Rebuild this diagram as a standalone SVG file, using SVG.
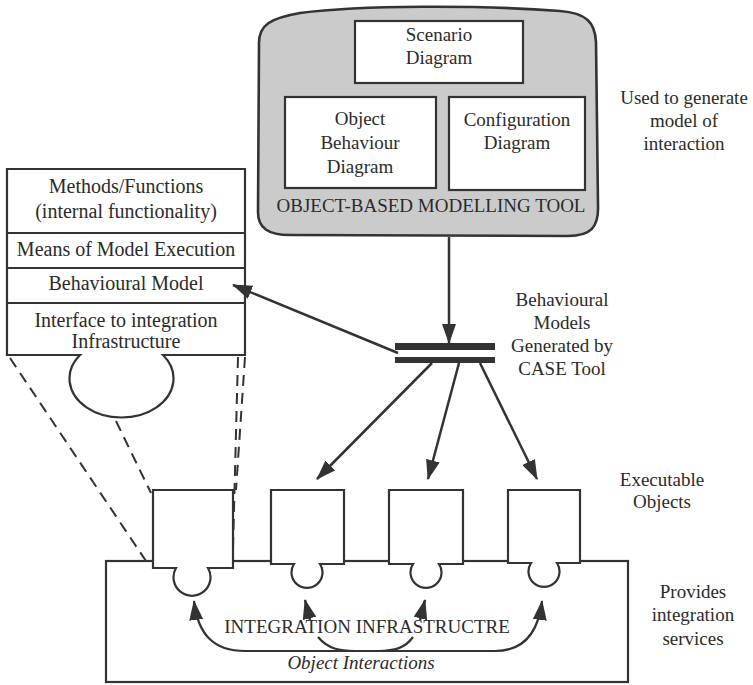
<svg xmlns="http://www.w3.org/2000/svg" width="753" height="685" viewBox="0 0 753 685">
  <style>
    .box { fill: #fff; stroke: #333; stroke-width: 2.2; }
    .line { fill: none; stroke: #333; stroke-width: 2.2; }
    .dash { fill: none; stroke: #333; stroke-width: 2; stroke-dasharray: 11 7; }
    .arrow { fill: none; stroke: #333; stroke-width: 2.5; marker-end: url(#head); }
    .t { font-family: 'Liberation Serif', 'Times New Roman', serif; font-size: 19px; fill: #2b2b2b; text-anchor: middle; }
    .lg { font-size: 20px; }
    .it { font-style: italic; }
  </style>
  <defs>
    <marker id="head" viewBox="0 0 20 14" refX="19" refY="7" markerWidth="20" markerHeight="14" markerUnits="userSpaceOnUse" orient="auto-start-reverse">
      <path d="M0,0 L20,7 L0,14 Z" fill="#333"/>
    </marker>
  </defs>

  <!-- Modelling tool with its three diagram editors -->
  <g id="modelling-tool">
    <path d="M 259 45 C 258 24, 272 18, 300 13 C 360 5, 480 5, 560 11 C 586 13, 595 22, 596 42 L 598 205 C 599 228, 590 236, 568 236 L 290 235 C 268 235, 258 228, 258 212 Z" fill="#cbcbcb" stroke="#333" stroke-width="2.6"/>
    <rect class="box" x="355" y="21" width="168" height="62"/>
    <text class="t" x="439" y="41">Scenario</text>
    <text class="t" x="439" y="64">Diagram</text>
    <rect class="box" x="285" y="97" width="151" height="91"/>
    <text class="t" x="360" y="125">Object</text>
    <text class="t" x="360" y="149">Behaviour</text>
    <text class="t" x="360" y="173">Diagram</text>
    <rect class="box" x="449" y="97" width="136" height="93"/>
    <text class="t" x="517" y="126">Configuration</text>
    <text class="t" x="517" y="149">Diagram</text>
    <text class="t" x="431" y="212">OBJECT-BASED MODELLING TOOL</text>
  </g>

  <!-- Layered view of one executable object -->
  <g id="object-layers">
    <path class="box" d="M 80 355 L 7 355 L 7 169 L 245 169 L 245 355 L 163 355 A 52 39 0 1 1 80 355 Z"/>
    <line class="line" x1="7" y1="233" x2="245" y2="233"/>
    <line class="line" x1="7" y1="268" x2="245" y2="268"/>
    <line class="line" x1="7" y1="303" x2="245" y2="303"/>
    <text class="t lg" x="126" y="193">Methods/Functions</text>
    <text class="t lg" x="126" y="218">(internal functionality)</text>
    <text class="t lg" x="126" y="256">Means of Model Execution</text>
    <text class="t lg" x="126" y="290">Behavioural Model</text>
    <text class="t lg" x="126" y="327">Interface to integration</text>
    <text class="t lg" x="126" y="348">Infrastructure</text>
  </g>

  <!-- Code generation plate -->
  <g id="generator">
    <rect x="395" y="343" width="100" height="7" fill="#333"/>
    <rect x="395" y="357" width="100" height="6" fill="#333"/>
  </g>

  <!-- Integration infrastructure -->
  <g id="infrastructure">
    <rect class="box" x="106" y="561" width="522" height="121"/>
    <text class="t" x="367" y="633">INTEGRATION INFRASTRUCTRE</text>
    <text class="t it" x="361" y="669">Object Interactions</text>
  </g>

  <!-- Executable objects plugged into the infrastructure -->
  <g id="object-1">
    <path class="box" d="M 153 490 H 233 V 568 H 208 A 18.5 18.5 0 1 1 176 568 H 153 Z"/>
  </g>
  <g id="object-2">
    <path class="box" d="M 271 490 H 344 V 564 H 320 A 15.5 15.5 0 1 1 294 564 H 271 Z"/>
  </g>
  <g id="object-3">
    <path class="box" d="M 389 490 H 463 V 564 H 439 A 15.5 15.5 0 1 1 413 564 H 389 Z"/>
  </g>
  <g id="object-4">
    <path class="box" d="M 508 490 H 580 V 563 H 557 A 15.5 15.5 0 1 1 531 563 H 508 Z"/>
  </g>

  <!-- Side labels -->
  <g id="labels">
    <text class="t" x="684" y="104">Used to generate</text>
    <text class="t" x="684" y="127">model of</text>
    <text class="t" x="684" y="150">interaction</text>
    <text class="t" x="562" y="306">Behavioural</text>
    <text class="t" x="562" y="329">Models</text>
    <text class="t" x="562" y="352">Generated by</text>
    <text class="t" x="562" y="375">CASE Tool</text>
    <text class="t" x="662" y="486">Executable</text>
    <text class="t" x="662" y="508">Objects</text>
    <text class="t" x="693" y="598">Provides</text>
    <text class="t" x="693" y="621">integration</text>
    <text class="t" x="693" y="645">services</text>
  </g>

  <!-- Connectors -->
  <g id="connectors">
    <line class="dash" x1="10" y1="358" x2="146" y2="561"/>
    <line class="dash" x1="116" y1="421" x2="151" y2="493"/>
    <line class="dash" x1="238" y1="357" x2="233" y2="548"/>
    <line class="dash" x1="245" y1="357" x2="236" y2="490"/>
    <line class="arrow" x1="449" y1="237" x2="449" y2="343"/>
    <line class="arrow" x1="398" y1="353" x2="233" y2="285"/>
    <line class="arrow" x1="432" y1="363" x2="317" y2="479"/>
    <line class="arrow" x1="459" y1="363" x2="428" y2="479"/>
    <line class="arrow" x1="480" y1="363" x2="537" y2="479"/>
    <path class="line" d="M 194 601 C 198 635, 214 651, 245 651 L 495 651 C 522 651, 538 635, 542 601" marker-start="url(#head)" marker-end="url(#head)"/>
    <path class="line" d="M 318 637 C 328 649, 340 651, 355 651 L 378 651 C 395 651, 405 648, 413 637"/>
    <line class="arrow" x1="310" y1="620" x2="305" y2="600"/>
    <line class="arrow" x1="420" y1="620" x2="425" y2="600"/>
  </g>
</svg>
